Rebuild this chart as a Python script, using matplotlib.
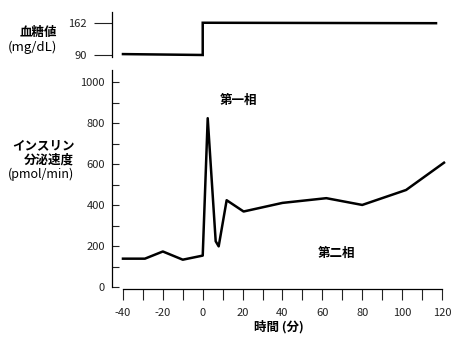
import numpy as np
import matplotlib
matplotlib.use('Agg')
import matplotlib.pyplot as plt
from matplotlib.ticker import MultipleLocator

plt.rcParams['font.family'] = ['Noto Sans CJK JP', 'DejaVu Sans']
plt.rcParams['axes.unicode_minus'] = False

# blood glucose (mg/dL)
glu_t = [-40, 0, 0, 117]
glu_v = [92, 90, 162, 161]

# insulin secretion rate (pmol/min)
ins_t = [-40, -29, -20, -10, 0, 2.5, 6.5, 8, 12, 20.5, 40, 62, 80, 102, 121]
ins_v = [140, 140, 175, 135, 155, 825, 225, 200, 425, 370, 412, 435, 402, 475, 608]

xticks = [-40, -20, 0, 20, 40, 60, 80, 100, 120]
yticks = [0, 200, 400, 600, 800, 1000]
glu_ticks = [90, 162]

fig = plt.figure(figsize=(4.7, 3.48), dpi=100)
ax1 = fig.add_axes([0.2383, 0.8362, 0.7106, 0.1293])
ax2 = fig.add_axes([0.2383, 0.1695, 0.7106, 0.6293])

xlim = (-45.5, 122)

# top panel
ax1.plot(glu_t, glu_v, color='black', lw=1.8, solid_joinstyle='miter')
ax1.set_xlim(*xlim)
ax1.set_ylim(85.5, 186)
for s in ['top', 'right', 'bottom']:
    ax1.spines[s].set_visible(False)
ax1.spines['left'].set_linewidth(0.9)
ax1.set_xticks([])
ax1.set_yticks(glu_ticks)
ax1.tick_params(axis='y', direction='out', length=13, width=0.8, pad=5,
                labelsize=8, colors='#222222')
ax1.text(-0.163, 0.55, '血糖値', transform=ax1.transAxes, ha='right', va='center',
         fontsize=9, fontweight='bold')
ax1.text(-0.163, 0.22, '(mg/dL)', transform=ax1.transAxes, ha='right', va='center',
         fontsize=9.5)

# bottom panel
ax2.plot(ins_t, ins_v, color='black', lw=1.8)
ax2.set_xlim(*xlim)
ax2.set_ylim(-8, 1060)
for s in ['top', 'right']:
    ax2.spines[s].set_visible(False)
ax2.spines['left'].set_bounds(0, 1060)
ax2.spines['bottom'].set_bounds(-40, 120)
ax2.spines['left'].set_linewidth(0.9)
ax2.spines['bottom'].set_linewidth(0.9)
ax2.set_xticks(xticks)
ax2.xaxis.set_minor_locator(MultipleLocator(10))
ax2.set_yticks(yticks)
ax2.yaxis.set_minor_locator(MultipleLocator(100))
ax2.tick_params(axis='y', which='both', direction='in', length=5, width=0.8, pad=5,
                labelsize=8, colors='#222222')
ax2.tick_params(axis='x', which='both', direction='out', length=8, width=0.8, pad=6,
                labelsize=8, colors='#222222')
ax2.set_xlabel('時間 (分)', fontsize=9, fontweight='bold', labelpad=1)

ax2.text(-0.113, 0.655, 'インスリン', transform=ax2.transAxes, ha='right', va='center',
         fontsize=9, fontweight='bold')
ax2.text(-0.113, 0.59, '分泌速度', transform=ax2.transAxes, ha='right', va='center',
         fontsize=9, fontweight='bold')
ax2.text(-0.113, 0.525, '(pmol/min)', transform=ax2.transAxes, ha='right', va='center',
         fontsize=9)
ax2.text(18, 912, '第一相', ha='center', va='center', fontsize=9, fontweight='bold')
ax2.text(67, 168, '第二相', ha='center', va='center', fontsize=9, fontweight='bold')

fig.savefig('out.png', dpi=100)
